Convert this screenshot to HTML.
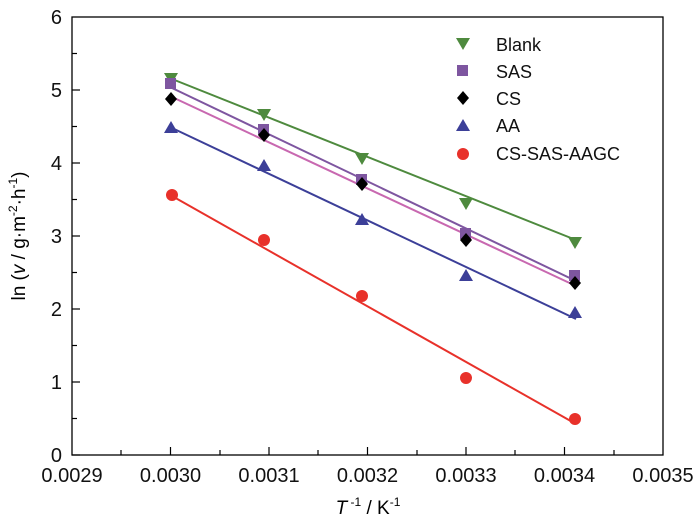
<!DOCTYPE html>
<html><head><meta charset="utf-8"><style>body{margin:0;background:#fff}</style></head><body>
<svg width="700" height="524" xmlns="http://www.w3.org/2000/svg" font-family="Liberation Sans, Arial, sans-serif">
<rect width="700" height="524" fill="#fff"/>
<rect x="72" y="17" width="591" height="438" fill="none" stroke="#000" stroke-width="1.3"/>
<g stroke="#000" stroke-width="1.2">
<line x1="72" y1="455" x2="80" y2="455"/><line x1="72" y1="418.5" x2="77" y2="418.5"/>
<line x1="72" y1="382" x2="80" y2="382"/><line x1="72" y1="345.5" x2="77" y2="345.5"/>
<line x1="72" y1="309" x2="80" y2="309"/><line x1="72" y1="272.5" x2="77" y2="272.5"/>
<line x1="72" y1="236" x2="80" y2="236"/><line x1="72" y1="199.5" x2="77" y2="199.5"/>
<line x1="72" y1="163" x2="80" y2="163"/><line x1="72" y1="126.5" x2="77" y2="126.5"/>
<line x1="72" y1="90" x2="80" y2="90"/><line x1="72" y1="53.5" x2="77" y2="53.5"/>
<line x1="170.5" y1="455" x2="170.5" y2="447"/><line x1="269" y1="455" x2="269" y2="447"/>
<line x1="367.5" y1="455" x2="367.5" y2="447"/><line x1="466" y1="455" x2="466" y2="447"/>
<line x1="564.5" y1="455" x2="564.5" y2="447"/>
<line x1="121" y1="455" x2="121" y2="450"/><line x1="220" y1="455" x2="220" y2="450"/>
<line x1="318" y1="455" x2="318" y2="450"/><line x1="417" y1="455" x2="417" y2="450"/>
<line x1="515" y1="455" x2="515" y2="450"/><line x1="614" y1="455" x2="614" y2="450"/>
</g>
<g font-size="20" text-anchor="end" fill="#111">
<text x="62" y="462">0</text><text x="62" y="389">1</text><text x="62" y="316">2</text>
<text x="62" y="243">3</text><text x="62" y="170">4</text><text x="62" y="97">5</text><text x="62" y="24">6</text>
</g>
<g font-size="20" text-anchor="middle" fill="#111">
<text x="72" y="482">0.0029</text><text x="170.5" y="482">0.0030</text><text x="269" y="482">0.0031</text>
<text x="367.5" y="482">0.0032</text><text x="466" y="482">0.0033</text><text x="564.5" y="482">0.0034</text>
<text x="663" y="482">0.0035</text>
</g>
<text x="368" y="514" font-size="19" text-anchor="middle"><tspan font-style="italic">T</tspan><tspan font-size="12" dy="-8"> -1</tspan><tspan dy="8"> / K</tspan><tspan font-size="12" dy="-8">-1</tspan></text>
<text transform="translate(25,236) rotate(-90)" font-size="19" text-anchor="middle">ln (<tspan font-style="italic">v</tspan> / g·m<tspan font-size="12" dy="-8">-2</tspan><tspan dy="8">·h</tspan><tspan font-size="12" dy="-8">-1</tspan><tspan dy="8">)</tspan></text>
<g stroke-width="2" fill="none">
<line x1="172" y1="79" x2="576" y2="240" stroke="#4e8a3e"/>
<line x1="172" y1="88" x2="576" y2="281" stroke="#7e56a0"/>
<line x1="172" y1="97" x2="576" y2="286" stroke="#c868b0"/>
<line x1="172" y1="128" x2="576" y2="319" stroke="#3c3f98"/>
<line x1="172" y1="196" x2="576" y2="424" stroke="#e8312a"/>
</g>
<g fill="#4e8a3e">
<path d="M164,73 h14 l-7,12z"/><path d="M257,109 h14 l-7,12z"/><path d="M355,153 h14 l-7,12z"/><path d="M459,198 h14 l-7,12z"/><path d="M568,237 h14 l-7,12z"/>
<path d="M456,38 h14 l-7,12z"/>
</g>
<g fill="#7e56a0">
<rect x="165" y="78" width="11" height="11"/><rect x="258" y="124" width="11" height="11"/><rect x="356" y="174" width="11" height="11"/><rect x="460" y="228" width="11" height="11"/><rect x="569" y="270" width="11" height="11"/>
<rect x="457" y="65" width="11" height="11"/>
</g>
<g fill="#000">
<path d="M171,92 l6,7 -6,7 -6,-7z"/><path d="M264,128 l6,7 -6,7 -6,-7z"/><path d="M362,177 l6,7 -6,7 -6,-7z"/><path d="M466,233 l6,7 -6,7 -6,-7z"/><path d="M575,276 l6,7 -6,7 -6,-7z"/>
<path d="M463,91 l6,7 -6,7 -6,-7z"/>
</g>
<g fill="#3c3f98">
<path d="M164,133 h14 l-7,-12z"/><path d="M257,171 h14 l-7,-12z"/><path d="M355,225 h14 l-7,-12z"/><path d="M459,281 h14 l-7,-12z"/><path d="M568,318 h14 l-7,-12z"/>
<path d="M456,131 h14 l-7,-12z"/>
</g>
<g fill="#e8312a">
<circle cx="172" cy="195" r="6"/><circle cx="264" cy="240" r="6"/><circle cx="362" cy="296" r="6"/><circle cx="466" cy="378" r="6"/><circle cx="575" cy="419" r="6"/>
<circle cx="463" cy="154" r="6"/>
</g>
<g font-size="18" fill="#111">
<text x="496" y="51">Blank</text><text x="496" y="78">SAS</text><text x="496" y="105">CS</text>
<text x="496" y="132">AA</text><text x="496" y="160">CS-SAS-AAGC</text>
</g>
</svg>
</body></html>
